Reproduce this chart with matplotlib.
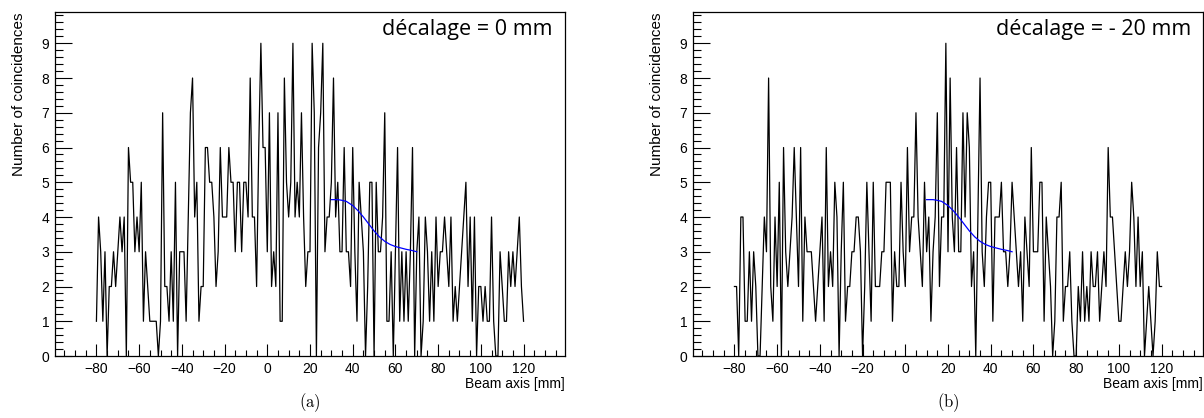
import matplotlib.pyplot as plt
import numpy as np
from matplotlib.ticker import MultipleLocator

plt.rcParams['mathtext.fontset'] = 'cm'
plt.rcParams['font.family'] = ['Liberation Sans', 'DejaVu Sans']

# bin contents, 1 mm bins starting at -80 mm
x_start = -80
counts_a = [1, 4, 3, 1, 3, 0, 2, 2, 3, 2,
            3, 4, 3, 4, 0, 6, 5, 5, 3, 4,
            3, 5, 1, 3, 2, 1, 1, 1, 1, 0,
            1, 7, 2, 2, 1, 3, 1, 5, 0, 3,
            3, 3, 1, 4, 7, 8, 4, 5, 1, 2,
            2, 6, 6, 5, 5, 4, 2, 3, 6, 4,
            4, 4, 6, 5, 5, 3, 5, 5, 3, 5,
            5, 4, 8, 4, 4, 2, 6, 9, 6, 6,
            3, 7, 2, 3, 2, 7, 1, 1, 8, 5,
            4, 5, 9, 4, 5, 4, 7, 4, 2, 3,
            3, 9, 7, 0, 6, 7, 9, 3, 4, 4,
            5, 8, 4, 5, 3, 3, 6, 3, 3, 2,
            6, 3, 1, 5, 4, 3, 0, 2, 5, 5,
            0, 5, 3, 3, 4, 7, 1, 1, 3, 0,
            3, 6, 1, 3, 1, 3, 1, 3, 6, 0,
            3, 4, 0, 1, 4, 3, 1, 3, 1, 4,
            2, 3, 3, 4, 3, 2, 4, 1, 2, 1,
            2, 3, 4, 5, 2, 4, 1, 4, 0, 2,
            2, 1, 2, 1, 1, 4, 1, 0, 0, 3,
            2, 1, 1, 3, 2, 3, 2, 3, 4, 2,
            1]
counts_b = [2, 2, 0, 4, 4, 1, 1, 3, 1, 3,
            2, 0, 0, 2, 4, 3, 8, 2, 1, 4,
            2, 5, 0, 6, 3, 2, 3, 4, 6, 4,
            2, 6, 1, 4, 3, 3, 3, 2, 1, 2,
            3, 4, 1, 6, 2, 3, 2, 5, 4, 0,
            3, 5, 1, 2, 2, 3, 3, 4, 4, 3,
            0, 2, 5, 3, 1, 5, 2, 2, 2, 3,
            3, 5, 5, 5, 1, 3, 2, 2, 5, 3,
            2, 6, 3, 4, 4, 7, 4, 3, 2, 5,
            3, 4, 1, 3, 4, 7, 2, 4, 4, 9,
            3, 8, 4, 3, 6, 3, 3, 7, 4, 7,
            6, 2, 3, 0, 4, 8, 3, 2, 4, 5,
            5, 1, 4, 4, 4, 5, 3, 3, 2, 3,
            5, 4, 3, 2, 3, 1, 4, 3, 2, 6,
            3, 3, 3, 5, 5, 1, 4, 3, 2, 0,
            1, 4, 4, 5, 1, 2, 2, 3, 1, 0,
            0, 2, 1, 3, 1, 2, 1, 3, 2, 2,
            3, 1, 2, 3, 2, 6, 4, 4, 3, 2,
            1, 1, 2, 3, 2, 3, 5, 4, 2, 4,
            2, 3, 0, 1, 2, 1, 0, 1, 3, 2,
            2]

# fit curve; panel (b) is the same shifted by the offset
fit_x = [30, 33, 35, 37, 40, 42.5, 45, 47.5, 50, 52.5, 55, 57.5, 60, 62.5, 65, 67.5, 70]
fit_y = [4.5, 4.5, 4.48, 4.45, 4.33, 4.18, 4.0, 3.8, 3.6, 3.43, 3.3, 3.21, 3.15, 3.11, 3.07, 3.04, 3.0]

offsets = [0, -20]
titles = ['décalage = 0 mm', 'décalage = - 20 mm']
tags = ['(a)', '(b)']
all_counts = [counts_a, counts_b]

fig = plt.figure(figsize=(12.04, 4.18), dpi=100)
lefts = [55, 693]

for i in range(2):
    ax = fig.add_axes([lefts[i] / 1204, 62 / 418, 510 / 1204, 344 / 418])
    y = np.array(all_counts[i])
    x = x_start + np.arange(len(y))
    ax.plot(x, y, color='black', lw=0.9)
    ax.plot(np.array(fit_x) + offsets[i], fit_y, color='blue', lw=0.9)

    ax.set_xlim(-99.4, 139.4)
    ax.set_ylim(0, 9.9)
    ax.xaxis.set_major_locator(MultipleLocator(20))
    ax.xaxis.set_minor_locator(MultipleLocator(5))
    ax.yaxis.set_major_locator(MultipleLocator(1))
    ax.yaxis.set_minor_locator(MultipleLocator(0.2))
    ax.tick_params(axis='x', which='major', direction='in', length=8.5, width=0.8, labelsize=10, pad=4)
    ax.tick_params(axis='x', which='minor', direction='in', length=4.3, width=0.8)
    ax.tick_params(axis='y', which='major', direction='in', length=12, width=0.8, labelsize=10, pad=4)
    ax.tick_params(axis='y', which='minor', direction='in', length=6, width=0.8)
    for s in ax.spines.values():
        s.set_linewidth(0.9)

    ax.set_xlabel('Beam axis [mm]', loc='right', fontsize=10, labelpad=1)
    ax.set_ylabel('Number of coincidences', loc='top', fontsize=11, labelpad=11)
    ax.text(0.976, 0.948, titles[i], transform=ax.transAxes, ha='right', va='center',
            fontsize=15.5, family='Open Sans')
    fig.text((lefts[i] + 255) / 1204, 1 - 403 / 418, '$\\mathrm{' + tags[i] + '}$',
             ha='center', va='center', fontsize=12)

fig.savefig('out.png', dpi=100)
